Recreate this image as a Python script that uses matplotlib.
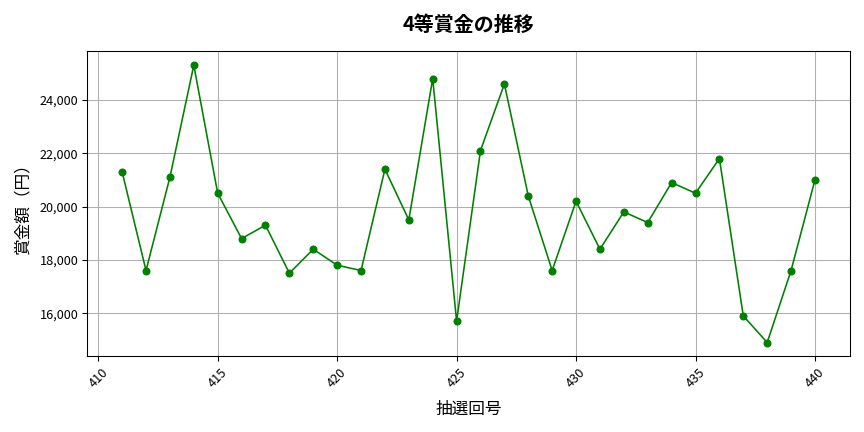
import matplotlib
matplotlib.use("Agg")
import matplotlib.pyplot as plt
from matplotlib.ticker import FuncFormatter

plt.rcParams['font.family'] = ['Noto Sans CJK JP', 'DejaVu Sans']

# 抽選回号と4等賞金（円）
draws = list(range(411, 441))
prizes = [21300, 17600, 21100, 25300, 20500, 18800, 19300, 17500, 18400, 17800,
          17600, 21400, 19500, 24800, 15700, 22100, 24600, 20400, 17600, 20200,
          18400, 19800, 19400, 20900, 20500, 21800, 15900, 14900, 17600, 21000]

fig, ax = plt.subplots(figsize=(9, 4.5), dpi=96)
ax.plot(draws, prizes, marker='o', color='green', markersize=5, linewidth=1.2)
ax.set_title('4等賞金の推移', fontsize=15, fontweight='bold', pad=15)
ax.set_xlabel('抽選回号', fontsize=12.5, labelpad=8)
ax.set_ylabel('賞金額（円）', fontsize=12.5, labelpad=6)
ax.yaxis.set_major_formatter(FuncFormatter(lambda v, p: f'{int(v):,}'))
ax.tick_params(axis='x', labelrotation=45, labelsize=9.5)
ax.tick_params(axis='y', labelsize=9.5)
ax.grid(True)

fig.tight_layout()
fig.savefig('out.png')
